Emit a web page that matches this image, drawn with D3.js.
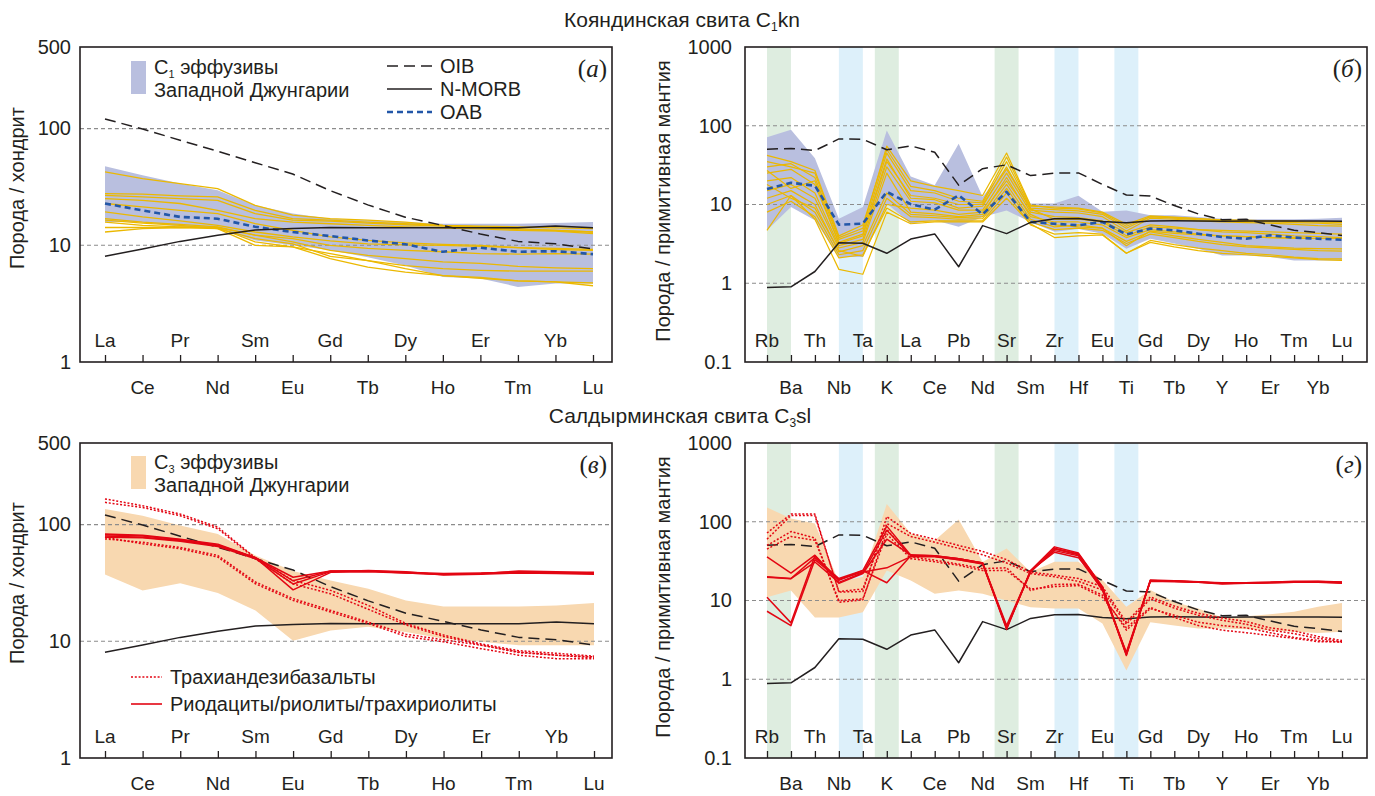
<!DOCTYPE html>
<html>
<head>
<meta charset="utf-8">
<script src="https://cdn.jsdelivr.net/npm/d3@7"></script>
<style>
  body { margin: 0; background: #fff; }
  svg { display: block; font-family: "Liberation Sans", Arial, sans-serif; }
</style>
</head>
<body>
<svg id="svg" width="1375" height="796"></svg>
<script>

////////////////////////////////////////////////////////////////////////
// Element lists (x categories)

let reeEls = ["La","Ce","Pr","Nd","Sm","Eu","Gd","Tb","Dy","Ho","Er","Tm","Yb","Lu"];
let spiderEls = ["Rb","Ba","Th","Nb","Ta","K","La","Ce","Pb","Nd","Sr","Sm","Zr","Hf",
                 "Eu","Ti","Gd","Tb","Dy","Y","Ho","Er","Tm","Yb","Lu"];

// shaded columns on the spider diagrams: [from, to, colour key]
let spiderBands = [["Rb","Ba","g"], ["Nb","Ta","b"], ["K","K","g"],
                   ["Sr","Sr","g"], ["Zr","Hf","b"], ["Ti","Ti","b"]];

////////////////////////////////////////////////////////////////////////
// Reference curves

let oibRee   = [121, 99, 79.5, 64, 51, 40.8, 29.4, 22.2, 17.4, 14.8, 12.5, 10.8, 10.3, 9.3];
let nmorbRee = [8.06, 9.28, 10.8, 12.2, 13.5, 13.9, 14.2, 14.1, 14.1, 14.1, 14.1, 14.1, 14.6, 14.1];
let oabRee   = [22.8, 19.9, 17.5, 16.9, 14.4, 13.0, 12.0, 11.0, 10.2, 8.8, 9.55, 8.8, 8.9, 8.4];

let oibSpider   = [50.4, 51.5, 48.4, 68, 67.5, 49.5, 55.5, 46, 17.6, 28.5, 31.9, 23.3, 25, 25.2,
                   18, 13.2, 12.8, 9.7, 7.6, 6.4, 6.5, 5.5, 4.7, 4.4, 4.05];
let nmorbSpider = [0.88, 0.9, 1.41, 3.27, 3.22, 2.4, 3.64, 4.23, 1.62, 5.39, 4.27, 5.92, 6.6, 6.63,
                   6.07, 5.85, 6.17, 6.2, 6.17, 6.15, 6.16, 6.19, 6.16, 6.19, 6.15];
let oabSpider   = [15.7, 18.9, 17.3, 5.55, 5.7, 14.5, 10.1, 8.6, 13.1, 7.5, 14.5, 6.0, 5.7, 5.45,
                   6.0, 4.18, 4.94, 4.7, 4.26, 3.86, 3.68, 4.06, 3.8, 3.68, 3.57];

////////////////////////////////////////////////////////////////////////
// Panel (а): C1 REE

let c1ReeHi = [47.5, 39.8, 33.8, 29.6, 22.0, 18.7, 16.9, 16.4, 15.8, 15.3, 15.3, 15.3, 15.5, 15.8];
let c1ReeLo = [15.8, 15.8, 14.4, 13.9, 11.0, 10.0, 9.06, 7.9, 6.7, 5.35, 5.2, 4.4, 4.7, 4.7];
let c1Ree = [
  [42.5, 37.3, 33.8, 30.6, 22.0, 18.1, 16.9, 16.4, 15.8, 14.8, 14.4, 13.9, 13.4, 13.0],
  [27.7, 27.4, 26.5, 26.0, 19.9, 16.9, 16.4, 15.8, 15.3, 14.8, 14.6, 14.4, 14.1, 13.9],
  [26.8, 26.0, 25.1, 24.3, 18.7, 16.4, 16.1, 15.5, 15.0, 14.6, 14.2, 13.6, 13.4, 13.0],
  [25.1, 24.3, 22.8, 19.9, 16.9, 15.8, 15.3, 14.8, 14.4, 14.1, 13.8, 13.4, 13.2, 12.6],
  [19.3, 17.5, 16.2, 14.8, 13.0, 11.8, 10.9, 10.3, 10.1, 10.0, 9.8, 9.55, 9.2, 9.06],
  [16.9, 15.8, 15.1, 14.4, 12.2, 11.4, 10.0, 9.4, 9.06, 8.8, 8.5, 8.4, 8.5, 8.4],
  [16.4, 15.5, 14.8, 13.9, 11.4, 10.3, 8.05, 7.4, 6.7, 6.3, 6.1, 6.0, 6.0, 6.0],
  [15.8, 14.8, 14.4, 14.2, 10.7, 9.7, 7.7, 6.5, 5.9, 5.5, 5.3, 4.95, 4.85, 4.5],
  [13.0, 13.9, 14.2, 13.9, 10.0, 9.7, 8.5, 7.4, 6.3, 5.5, 5.2, 4.95, 4.85, 4.75],
  [14.2, 14.2, 14.2, 14.2, 12.2, 10.7, 9.06, 8.2, 7.7, 7.2, 7.0, 6.6, 6.4, 6.3],
  [22.8, 21.3, 19.9, 18.7, 15.3, 13.4, 11.8, 11.0, 10.5, 10.2, 10.0, 9.55, 9.4, 9.2]
];

////////////////////////////////////////////////////////////////////////
// Panel (б): C1 spider

let c1SpHi = [71.6, 89, 38.6, 6.6, 9.3, 87, 22.6, 17.6, 59, 12.5, 30, 10.3, 10.3, 12.9,
              8.07, 8.4, 7.3, 7.3, 6.95, 6.6, 6.5, 6.5, 6.5, 6.6, 6.8];
let c1SpLo = [4.7, 9.3, 6.3, 2.15, 2.15, 10.3, 5.7, 6.3, 5.2, 6.95, 8.4, 6.0, 4.5, 4.9,
              4.26, 2.74, 3.68, 3.2, 2.74, 2.25, 2.25, 2.15, 1.95, 1.95, 1.95];
let c1Sp = [
  [42, 35, 27, 4.0, 5.5, 50, 17, 15, 12, 11, 40, 9.5, 9.3, 9.0, 8.0, 5.6, 7.2, 6.9, 6.6, 6.3, 6.3, 6.2, 6.1, 6.0, 6.0],
  [30, 33, 22, 3.6, 4.6, 45, 15, 14, 11, 10.5, 35, 9.0, 8.6, 8.3, 7.5, 5.0, 7.0, 6.7, 6.4, 6.2, 6.1, 6.0, 5.9, 5.8, 5.6],
  [25, 28, 18, 3.3, 4.2, 38, 12, 11.5, 9, 9.5, 30, 8.5, 8.0, 7.8, 7.0, 4.6, 6.7, 6.5, 6.2, 6.0, 5.9, 5.8, 5.6, 5.4, 5.3],
  [20, 22, 14, 3.0, 3.6, 30, 11, 10.5, 8.5, 8.5, 25, 8.0, 7.0, 6.8, 6.2, 4.4, 5.5, 5.2, 4.8, 4.5, 4.4, 4.2, 4.0, 3.9, 3.8],
  [15, 18, 12, 2.8, 3.3, 25, 8, 7.6, 7.0, 7.5, 22, 7.0, 6.0, 6.0, 5.5, 3.8, 4.8, 4.5, 4.2, 4.0, 3.9, 3.8, 3.7, 3.7, 3.7],
  [12, 15, 10, 2.5, 3.0, 14, 7.5, 7.2, 6.8, 7.0, 18, 6.5, 5.2, 5.5, 5.0, 3.4, 4.5, 4.0, 3.6, 3.3, 3.0, 2.9, 2.8, 2.75, 2.74],
  [10, 13, 8, 2.3, 2.6, 12, 7, 6.8, 6.5, 6.6, 16, 6.0, 4.8, 5.0, 4.7, 3.2, 4.2, 3.8, 3.4, 3.1, 2.9, 2.8, 2.7, 2.6, 2.56],
  [8, 11, 7, 2.1, 2.3, 9, 6, 6.2, 6.2, 6.2, 14, 5.5, 4.2, 4.4, 4.2, 2.4, 3.5, 3.1, 2.8, 2.6, 2.4, 2.3, 2.15, 2.05, 2.04],
  [4.7, 13, 6.5, 1.5, 1.3, 8, 5.7, 6.0, 6.0, 6.0, 12, 5.7, 3.8, 4.0, 4.1, 2.4, 3.3, 2.9, 2.6, 2.4, 2.3, 2.2, 2.1, 2.0, 1.95],
  [35, 30, 25, 3.8, 5.0, 55, 20, 17, 15, 13, 45, 9.8, 9.0, 8.8, 7.8, 5.3, 7.0, 6.8, 6.6, 6.4, 6.3, 6.2, 6.1, 6.0, 5.9],
  [18, 12, 9, 2.6, 2.2, 10, 9, 8.5, 7.5, 8, 20, 7.5, 5.5, 5.2, 5.0, 3.0, 4.6, 4.3, 4.1, 4.0, 3.9, 3.8, 3.8, 3.7, 3.7],
  [27, 16, 20, 3.2, 4.0, 35, 13, 12, 10, 10, 28, 8.8, 6.5, 6.5, 6.0, 4.0, 5.2, 5.0, 4.8, 4.7, 4.6, 4.5, 4.4, 4.3, 4.2]
];

////////////////////////////////////////////////////////////////////////
// Panel (в): C3 REE

let c3ReeHi = [136, 119, 98, 83, 54.3, 40, 33.2, 28.2, 22.4, 19.9, 19.9, 19.9, 20.3, 21.3];
let c3ReeLo = [37.4, 27.3, 31.5, 25.9, 18.4, 10.1, 12.4, 13.3, 12.0, 10.5, 9.9, 9.25, 9.25, 9.25];
let c3ReeTab = [   // трахиандезибазальты
  [166, 145, 123, 95, 51.8, 33.2, 27.3, 20.3, 14.2, 11.3, 9.5, 8.3, 7.9, 7.45],
  [155, 140, 119, 92, 51, 31, 25.5, 18.8, 13.8, 11.0, 9.3, 8.0, 7.6, 7.2],
  [75.4, 70.5, 63.7, 54.3, 32.2, 23.2, 18.4, 14.6, 11.5, 10.3, 9.25, 8.1, 7.6, 7.35],
  [77.8, 68.4, 62, 52.6, 31.1, 22.4, 17.8, 14.2, 11.0, 9.9, 8.65, 7.6, 7.1, 7.1]
];
let c3ReeRhy = [   // риодациты/риолиты/трахириолиты
  [83, 81, 75, 68, 52, 35.4, 40, 40, 38.4, 37.4, 38, 39.5, 39, 39],
  [80, 78, 73, 66, 52, 33, 40, 40, 39, 38, 38.5, 39, 38.5, 38],
  [78, 77, 72, 65, 51, 31, 39.5, 40.5, 39.5, 37, 37.5, 38.5, 38, 37.5],
  [82, 80, 74, 67, 52, 27.6, 39, 39.5, 38.5, 37.5, 38, 40, 39.5, 38.5]
];

////////////////////////////////////////////////////////////////////////
// Panel (г): C3 spider

let c3SpHi = [152, 110, 95, 17, 20, 168, 71, 58, 107, 30.8, 45.6, 23, 31, 31,
              18.2, 8.3, 13.6, 9.6, 7.9, 6.1, 6.3, 6.7, 7.2, 8.3, 9.3];
let c3SpLo = [11, 13.4, 6.1, 6.1, 7.1, 24, 18, 12.2, 13.4, 12.2, 10, 8.2, 7.9, 7.9,
              5.1, 1.29, 5.3, 4.8, 4.4, 4.4, 4.3, 4.17, 4.0, 3.87, 4.0];
let c3SpTab = [
  [72, 125, 125, 12.8, 13, 116, 71, 60, 50, 42, 33, 23, 21, 19, 15, 5.3, 11.1, 8.5, 6.9, 6.0, 5.4, 4.5, 4.1, 3.5, 3.1],
  [60, 120, 120, 13, 14, 95, 65, 55, 46, 38, 30, 22, 20, 17.5, 13.6, 5.0, 10.5, 8.0, 6.5, 5.6, 5.0, 4.2, 3.8, 3.3, 3.0],
  [50, 75, 62, 9.5, 10.2, 80, 36, 32.5, 29, 25.4, 26, 13.4, 16, 16.1, 11.7, 4.2, 7.9, 6.5, 5.3, 4.8, 4.5, 3.9, 3.4, 3.1, 2.95],
  [45, 65, 58, 10, 10.5, 70, 34, 31, 28, 24, 24, 14, 15, 15.5, 11, 4.5, 8.2, 6.1, 4.8, 4.2, 3.9, 3.6, 3.3, 3.0, 3.0]
];
let c3SpRhy = [
  [35.8, 22.3, 37.6, 18, 24, 88, 37.6, 37, 34, 30, 4.4, 24, 48, 40, 15, 2.1, 18.2, 17.8, 17.3, 16.5, 16.8, 17, 17.3, 17.5, 17.2],
  [19.8, 18.9, 30.8, 17, 22.5, 78, 37, 36.5, 33, 29, 4.6, 23, 45, 38, 14.5, 2.0, 17.8, 17.5, 17, 16.2, 16.5, 16.8, 17, 17.2, 16.8],
  [11, 5.2, 37, 16.5, 22, 60, 38, 37, 34, 30, 4.8, 23.5, 43, 37, 13.5, 2.2, 17.5, 17.8, 17.2, 16.8, 16.8, 17, 17.5, 17.4, 17.0],
  [7.3, 4.8, 33, 18.5, 23, 26, 36, 36, 33, 29.5, 4.3, 24, 41, 35, 14, 2.1, 17.5, 17.3, 17, 16.5, 16.6, 16.8, 17.0, 17.1, 16.5],
  [20, 19, 35, 19, 24, 16.8, 37, 36.5, 34, 30, 4.5, 23, 46, 39, 14.8, 2.05, 18, 17.6, 17.2, 16.4, 16.7, 16.9, 17.2, 17.3, 16.9]
];

////////////////////////////////////////////////////////////////////////
// Texts

let reeTicks = [1, 10, 100, 500];
let spiderTicks = [0.1, 1, 10, 100, 1000];
let yLabelRee = "Порода / хондрит";
let yLabelSpider = "Порода / примитивная мантия";


////////////////////////////////////////////////////////////////////////
// Drawing

let svg = d3.select("#svg");
let ink = "#231f20";
let yellow = "#ebb800";
let red = "#e30613";
let oabBlue = "#2357a8";
let dotted = "2,1.8";

function drawPanel(p)
{
  let g = svg.append("g");
  let x = d3.scalePoint().domain(p.cats).range([p.xFirst, p.xLast]);
  let y = d3.scaleLog().domain(p.yDomain).range([p.bottom, p.top]);
  let step = x.step();

  if (p.bands) {
    g.selectAll("rect.band").data(p.bands).enter().append("rect")
      .attr("x", d => d[0] === d[1] ? x(d[0]) - step / 2 : x(d[0]))
      .attr("width", step)
      .attr("y", p.top)
      .attr("height", p.bottom - p.top)
      .attr("fill", d => d[2] === "g" ? "#deede0" : "#ddf0fa");
  }

  // literature envelope
  let env = p.cats.map((c, i) => ({ c: c, lo: p.envLo[i], hi: p.envHi[i] }));
  g.append("path").datum(env)
    .attr("d", d3.area().x(d => x(d.c)).y0(d => y(d.lo)).y1(d => y(d.hi)))
    .attr("fill", p.envColor);

  // dashed grid
  g.selectAll("line.grid").data(p.grid).enter().append("line")
    .attr("x1", p.left).attr("x2", p.right)
    .attr("y1", d => y(d)).attr("y2", d => y(d))
    .attr("stroke", "#8c8c8c").attr("stroke-width", 1.1)
    .attr("stroke-dasharray", "4,3");

  let line = d3.line().x((d, i) => x(p.cats[i])).y(d => y(d));
  p.series.forEach(function(s) {
    g.append("g").selectAll("path").data(s.rows).enter().append("path")
      .attr("d", line)
      .attr("fill", "none")
      .attr("stroke", s.color)
      .attr("stroke-width", s.width)
      .attr("stroke-dasharray", s.dash || null)
      .attr("stroke-linejoin", "round");
  });

  // frame
  g.append("rect")
    .attr("x", p.left).attr("y", p.top)
    .attr("width", p.right - p.left).attr("height", p.bottom - p.top)
    .attr("fill", "none").attr("stroke", ink).attr("stroke-width", 1.6);

  // inward x ticks
  g.append("g").attr("transform", `translate(0,${p.bottom})`)
    .call(d3.axisBottom(x).tickSize(-7).tickFormat(""))
    .call(a => a.select(".domain").remove())
    .selectAll("line").attr("stroke", ink).attr("stroke-width", 1.3);

  // x labels, alternating inside / below
  g.selectAll("text.xl").data(p.cats).enter().append("text")
    .attr("x", d => x(d))
    .attr("y", (d, i) => i % 2 === 0 ? p.bottom - 15 : p.bottom + 32)
    .attr("text-anchor", "middle")
    .attr("font-size", 19)
    .attr("fill", ink)
    .text(d => d);

  // y tick labels
  g.append("g").attr("transform", `translate(${p.left},0)`)
    .call(d3.axisLeft(y).tickValues(p.yTicks).tickFormat(d => String(d)).tickSize(0).tickPadding(p.pad))
    .call(a => a.select(".domain").remove())
    .attr("font-family", null).attr("font-size", 20)
    .selectAll("text").attr("fill", ink);

  // y title
  g.append("text")
    .attr("transform", `translate(${p.yLabelX},${p.yLabelY}) rotate(-90)`)
    .attr("text-anchor", "middle").attr("font-size", 20).attr("fill", ink)
    .text(p.yLabel);

  // panel letter
  let t = g.append("text")
    .attr("x", p.right - 5).attr("y", p.top + 30)
    .attr("text-anchor", "end")
    .attr("font-family", "'Liberation Serif', 'DejaVu Serif', serif")
    .attr("font-size", 25).attr("fill", ink);
  t.append("tspan").text("(");
  t.append("tspan").attr("font-style", "italic").text(p.letter);
  t.append("tspan").text(")");

  return { x: x, y: y, g: g };
}

// panel (а)
drawPanel({
  cats: reeEls, xFirst: 105, xLast: 593, left: 80, right: 612, top: 47, bottom: 362,
  yDomain: [1, 500], yTicks: reeTicks, grid: [10, 100], pad: 9,
  envLo: c1ReeLo, envHi: c1ReeHi, envColor: "#b9bfdf",
  series: [
    { rows: c1Ree, color: yellow, width: 1.3 },
    { rows: [oabRee], color: oabBlue, width: 2.6, dash: "6,4" },
    { rows: [oibRee], color: ink, width: 1.5, dash: "11,6" },
    { rows: [nmorbRee], color: ink, width: 1.5 }
  ],
  yLabel: yLabelRee, yLabelX: 24, yLabelY: 188, letter: "а"
});

// panel (б)
drawPanel({
  cats: spiderEls, xFirst: 767, xLast: 1342, left: 745, right: 1367, top: 47, bottom: 362,
  yDomain: [0.1, 1000], yTicks: spiderTicks, grid: [1, 10, 100], pad: 13,
  bands: spiderBands,
  envLo: c1SpLo, envHi: c1SpHi, envColor: "#b9bfdf",
  series: [
    { rows: c1Sp, color: yellow, width: 1.2 },
    { rows: [oabSpider], color: oabBlue, width: 2.6, dash: "6,4" },
    { rows: [oibSpider], color: ink, width: 1.5, dash: "11,6" },
    { rows: [nmorbSpider], color: ink, width: 1.5 }
  ],
  yLabel: yLabelSpider, yLabelX: 670, yLabelY: 201, letter: "б"
});

// panel (в)
drawPanel({
  cats: reeEls, xFirst: 105, xLast: 594, left: 80, right: 612, top: 443, bottom: 758,
  yDomain: [1, 500], yTicks: reeTicks, grid: [10, 100], pad: 9,
  envLo: c3ReeLo, envHi: c3ReeHi, envColor: "#f8d8b0",
  series: [
    { rows: [oibRee], color: ink, width: 1.5, dash: "11,6" },
    { rows: [nmorbRee], color: ink, width: 1.5 },
    { rows: c3ReeTab, color: red, width: 1.5, dash: dotted },
    { rows: c3ReeRhy, color: red, width: 1.5 }
  ],
  yLabel: yLabelRee, yLabelX: 24, yLabelY: 583, letter: "в"
});

// panel (г)
drawPanel({
  cats: spiderEls, xFirst: 767, xLast: 1342, left: 745, right: 1367, top: 443, bottom: 758,
  yDomain: [0.1, 1000], yTicks: spiderTicks, grid: [1, 10, 100], pad: 13,
  bands: spiderBands,
  envLo: c3SpLo, envHi: c3SpHi, envColor: "#f8d8b0",
  series: [
    { rows: [oibSpider], color: ink, width: 1.5, dash: "11,6" },
    { rows: [nmorbSpider], color: ink, width: 1.5 },
    { rows: c3SpTab, color: red, width: 1.5, dash: dotted },
    { rows: c3SpRhy, color: red, width: 1.5 }
  ],
  yLabel: yLabelSpider, yLabelX: 670, yLabelY: 597, letter: "г"
});

////////////////////////////////////////////////////////////////////////
// Titles

function subTitle(xc, yb, pre, sub, post)
{
  let t = svg.append("text").attr("x", xc).attr("y", yb)
    .attr("text-anchor", "middle").attr("font-size", 21).attr("fill", ink);
  t.append("tspan").text(pre);
  t.append("tspan").attr("font-size", 12).attr("dy", 4).text(sub);
  t.append("tspan").attr("dy", -4).text(post);
}
subTitle(682, 27, "Кояндинская свита C", "1", "kn");
subTitle(680, 423, "Салдырминская свита C", "3", "sl");

////////////////////////////////////////////////////////////////////////
// Legends

function envLegend(y0, fill, sub)
{
  svg.append("rect").attr("x", 131).attr("y", y0).attr("width", 15).attr("height", 33).attr("fill", fill);
  let t = svg.append("text").attr("x", 154).attr("y", y0 + 13).attr("font-size", 20).attr("fill", ink);
  t.append("tspan").text("C");
  t.append("tspan").attr("font-size", 11).attr("dy", 4).text(sub);
  t.append("tspan").attr("dy", -4).text(" эффузивы");
  svg.append("text").attr("x", 154).attr("y", y0 + 36).attr("font-size", 20).attr("fill", ink)
    .text("Западной Джунгарии");
}
envLegend(61, "#b9bfdf", "1");
envLegend(456, "#f8d8b0", "3");

let refLegend = [
  { label: "OIB", color: ink, width: 1.5, dash: "11,6", y: 66 },
  { label: "N-MORB", color: ink, width: 1.5, dash: null, y: 89 },
  { label: "OAB", color: oabBlue, width: 2.6, dash: "6,4", y: 112 }
];
let lg = svg.append("g").selectAll("g").data(refLegend).enter().append("g");
lg.append("line").attr("x1", 387).attr("x2", 432).attr("y1", d => d.y).attr("y2", d => d.y)
  .attr("stroke", d => d.color).attr("stroke-width", d => d.width).attr("stroke-dasharray", d => d.dash);
lg.append("text").attr("x", 440).attr("y", d => d.y + 7).attr("font-size", 20).attr("fill", ink)
  .text(d => d.label);

let rockLegend = [
  { label: "Трахиандезибазальты", dash: dotted, width: 1.6, y: 677 },
  { label: "Риодациты/риолиты/трахириолиты", dash: null, width: 1.6, y: 704 }
];
let rg = svg.append("g").selectAll("g").data(rockLegend).enter().append("g");
rg.append("line").attr("x1", 131).attr("x2", 162).attr("y1", d => d.y).attr("y2", d => d.y)
  .attr("stroke", red).attr("stroke-width", d => d.width).attr("stroke-dasharray", d => d.dash);
rg.append("text").attr("x", 170).attr("y", d => d.y + 7).attr("font-size", 20).attr("fill", ink)
  .text(d => d.label);

</script>
</body>
</html>
